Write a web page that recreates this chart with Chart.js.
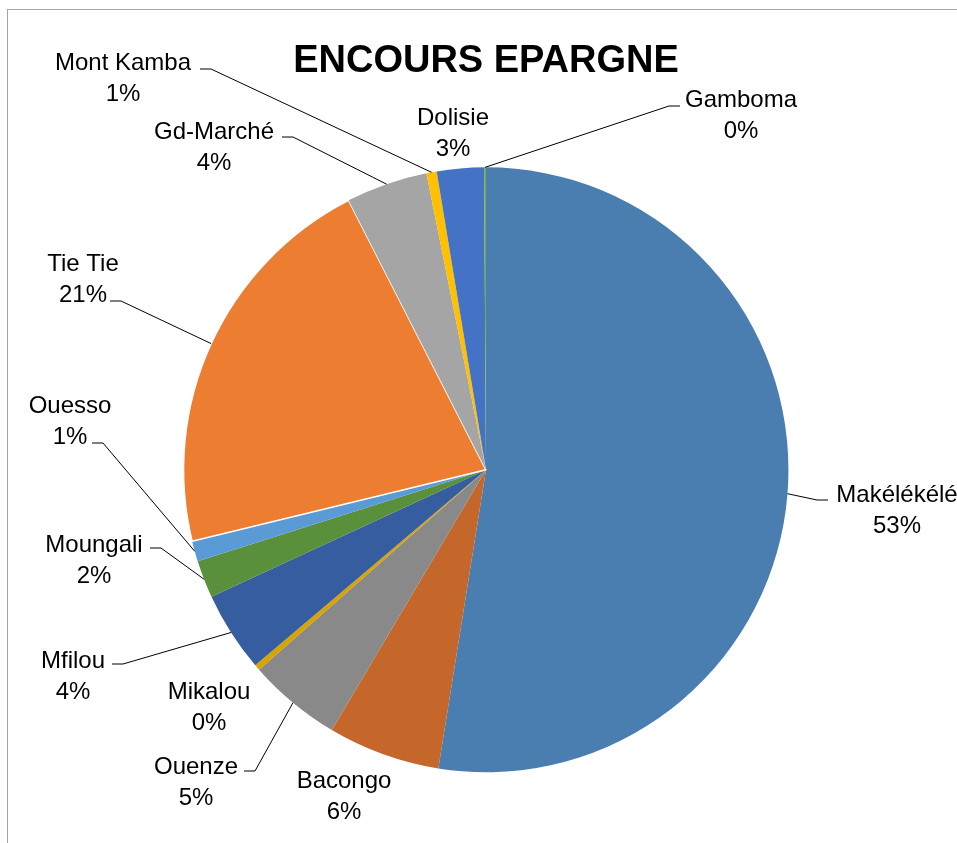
<!DOCTYPE html>
<html>
<head>
<meta charset="utf-8">
<script src="https://cdn.jsdelivr.net/npm/chart.js@4.4.1/dist/chart.umd.min.js"></script>
<style>
  body { margin: 0; background: #fff; }
  #wrap { width: 957px; height: 843px; position: relative; }
</style>
</head>
<body>
<div id="wrap"><canvas id="pie-chart"></canvas></div>
<script>
// data (share of total, %)
const branches = ['Makélékélé', 'Bacongo', 'Ouenze', 'Mikalou', 'Mfilou', 'Moungali',
                  'Ouesso', 'Tie Tie', 'Gd-Marché', 'Mont Kamba', 'Dolisie', 'Gamboma'];
const savings = [52.55, 6.0, 5.0, 0.3, 4.3, 2.0, 1.1, 21.3, 4.35, 0.55, 2.51, 0.1];
const sliceColors = ['#4A7EB0', '#C5662A', '#898989', '#D9A300', '#365DA0', '#5A8F3B',
                     '#5B9BD5', '#ED7D31', '#A5A5A5', '#FFC000', '#4472C4', '#70AD47'];

// where each data label sits (centre of first line), and where its leader starts
const labelPos = [[897, 495], [344, 781], [196, 767], [209, 692], [73, 661], [94, 545],
                  [70, 406], [83, 264], [214, 132], [123, 63], [453, 118], [741, 100]];
const leaderAt = [[828, 500], null, [244, 771], null, [112, 664], [150, 548],
                  [92, 443], [110, 301], [282, 137], [200, 69], null, [680, 106]];

const FONT = '"Liberation Sans", Arial, sans-serif';

// grey frame like the spreadsheet chart border
const framePlugin = {
   id: 'frame',
   beforeDraw(chart) {
      const ctx = chart.ctx;
      ctx.save();
      ctx.strokeStyle = '#A6A6A6';
      ctx.lineWidth = 1;
      ctx.strokeRect(7.5, 9.5, 2000, 2000);
      ctx.restore();
   }
};

// data labels with leader lines
const labelPlugin = {
   id: 'pieLabels',
   afterDatasetsDraw(chart) {
      const ctx = chart.ctx;
      const arcs = chart.getDatasetMeta(0).data;
      const values = chart.data.datasets[0].data;
      const total = values.reduce((a, b) => a + b, 0);
      ctx.save();

      // leader lines first
      ctx.strokeStyle = '#000';
      ctx.lineWidth = 1;
      arcs.forEach((arc, i) => {
         const start = leaderAt[i];
         if (!start) return;
         const mid = (arc.startAngle + arc.endAngle) / 2;
         const px = arc.x + Math.cos(mid) * arc.outerRadius;
         const py = arc.y + Math.sin(mid) * arc.outerRadius;
         const elbowX = start[0] + (px > start[0] ? 11 : -11);
         ctx.beginPath();
         ctx.moveTo(start[0], start[1]);
         ctx.lineTo(elbowX, start[1]);
         ctx.lineTo(px, py);
         ctx.stroke();
      });

      // text
      ctx.fillStyle = '#000';
      ctx.font = '24px ' + FONT;
      ctx.textAlign = 'center';
      ctx.textBaseline = 'middle';
      chart.data.labels.forEach((name, i) => {
         const pct = Math.round(values[i] / total * 100) + '%';
         const [x, y] = labelPos[i];
         ctx.fillText(name, x, y);
         ctx.fillText(pct, x, y + 31);
      });
      ctx.restore();
   }
};

const ctx = document.getElementById('pie-chart');

const pieChart = new Chart(ctx, {
   type: 'pie',
   data: {
      labels: branches,
      datasets: [
      {
         data: savings,
         backgroundColor: sliceColors,
         borderColor: '#FFFFFF',
         borderWidth: [0, 0, 0, 0, 0, 0, 0, 1.5, 0, 0, 0, 0],
         hoverOffset: 0
      }
      ]
   },
   options: {
      responsive: true,
      maintainAspectRatio: false,
      animation: false,
      layout: {
         padding: { top: 0, left: 182, right: 167, bottom: 70 }
      },
      plugins: {
         legend: { display: false },
         tooltip: { enabled: false },
         title: {
            display: true,
            text: 'ENCOURS EPARGNE',
            color: '#000',
            font: { family: FONT, size: 38, weight: 'bold', lineHeight: 1.2 },
            padding: { top: 39, bottom: 82 }
         }
      }
   },
   plugins: [framePlugin, labelPlugin]
});
</script>
</body>
</html>
